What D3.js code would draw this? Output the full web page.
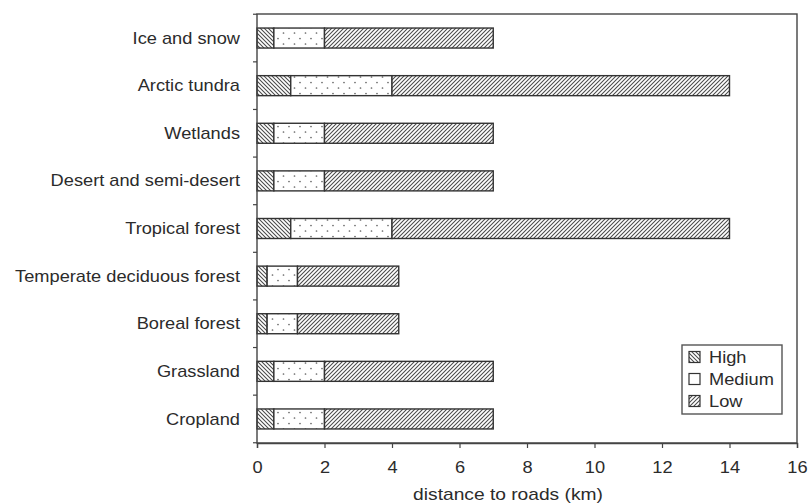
<!DOCTYPE html>
<html><head><meta charset="utf-8">
<script src="https://cdn.jsdelivr.net/npm/d3@7"></script>
<style>
html,body{margin:0;padding:0;background:#fff;}
svg{display:block;}
text{font-family:"Liberation Sans",Arial,Helvetica,sans-serif;fill:#2b2b2b;}
</style></head>
<body>
<svg id="chart" width="808" height="504"></svg>
<script>
const categories = ["Ice and snow","Arctic tundra","Wetlands","Desert and semi-desert","Tropical forest","Temperate deciduous forest","Boreal forest","Grassland","Cropland"];
const seriesNames = ["High","Medium","Low"];
const highValues   = [0.5, 1.0, 0.5, 0.5, 1.0, 0.3, 0.3, 0.5, 0.5];
const mediumValues = [1.5, 3.0, 1.5, 1.5, 3.0, 0.9, 0.9, 1.5, 1.5];
const lowValues    = [5.0, 10.0, 5.0, 5.0, 10.0, 3.0, 3.0, 5.0, 5.0];
const xTicks = [0,2,4,6,8,10,12,14,16];
const xTitle = "distance to roads (km)";

const rows = categories.map((c,i)=>({category:c, High:highValues[i], Medium:mediumValues[i], Low:lowValues[i]}));
const stacked = d3.stack().keys(seriesNames)(rows);

const svg = d3.select("#chart");
const L = 257, R = 797, T = 14, B = 443;
const SX = 1.14; // horizontal stretch of the reference's lettering
const x = d3.scaleLinear().domain([0,16]).range([L,R]);
const y = d3.scaleBand().domain(categories).range([T,B]).paddingInner(0.58).paddingOuter(0.295);

// patterns
const defs = svg.append("defs");
const hatchColor = "#4a4a4a";
const pHigh = defs.append("pattern").attr("id","pHigh").attr("patternUnits","userSpaceOnUse").attr("width",4).attr("height",4);
pHigh.append("rect").attr("width",4).attr("height",4).attr("fill","#fff");
pHigh.append("path").attr("d","M-1,3 l2,2 M0,0 l4,4 M3,-1 l2,2").attr("stroke",hatchColor).attr("stroke-width",1.05);
const pLow = defs.append("pattern").attr("id","pLow").attr("patternUnits","userSpaceOnUse").attr("width",4).attr("height",4);
pLow.append("rect").attr("width",4).attr("height",4).attr("fill","#fff");
pLow.append("path").attr("d","M-1,1 l2,-2 M0,4 l4,-4 M3,5 l2,-2").attr("stroke",hatchColor).attr("stroke-width",1.05);
const pMed = defs.append("pattern").attr("id","pMed").attr("patternUnits","userSpaceOnUse").attr("width",11).attr("height",11).attr("y",3);
pMed.append("rect").attr("width",11).attr("height",11).attr("fill","#fff");
pMed.append("circle").attr("cx",3).attr("cy",2.5).attr("r",0.85).attr("fill","#666");
pMed.append("circle").attr("cx",8.5).attr("cy",8).attr("r",0.85).attr("fill","#666");
const fills = {High:"url(#pHigh)", Medium:"url(#pMed)", Low:"url(#pLow)"};

// bars
svg.append("g").selectAll("g").data(stacked).join("g")
  .attr("fill", d=>fills[d.key])
  .selectAll("rect").data(d=>d).join("rect")
  .attr("x", d=>x(d[0]))
  .attr("y", d=>y(d.data.category))
  .attr("width", d=>x(d[1])-x(d[0]))
  .attr("height", y.bandwidth())
  .attr("stroke","#333").attr("stroke-width",1.4);

// frame
const axisColor = "#444";
svg.append("rect").attr("x",L).attr("y",T).attr("width",R-L).attr("height",B-T)
  .attr("fill","none").attr("stroke",axisColor).attr("stroke-width",1.4);

// x axis
const xAxis = svg.append("g").attr("transform",`translate(0,${B})`)
  .call(d3.axisBottom(x).tickValues(xTicks).tickSize(5).tickPadding(0).tickFormat(d3.format("d")));
xAxis.select(".domain").attr("stroke",axisColor).attr("stroke-width",1.4);
xAxis.selectAll(".tick line").attr("stroke",axisColor).attr("stroke-width",1.2);
xAxis.selectAll(".tick text").attr("y",0).attr("dy",0)
  .attr("transform",`translate(0,30) scale(${SX},1)`)
  .style("font-size","16px").attr("fill","#2b2b2b");

// y axis ticks at band boundaries
const step = y.step();
const bounds = categories.map(c=>y(c)+y.bandwidth()/2-step/2);
bounds.push(y(categories[categories.length-1])+y.bandwidth()/2+step/2);
svg.append("g").selectAll("line").data(bounds).join("line")
  .attr("x1",L-4).attr("x2",L).attr("y1",d=>d).attr("y2",d=>d)
  .attr("stroke",axisColor).attr("stroke-width",1.2);

// y labels
svg.append("g").selectAll("text").data(categories).join("text")
  .attr("transform", d=>`translate(240,${y(d)+y.bandwidth()/2}) scale(${SX},1)`)
  .attr("text-anchor","end").attr("dy","0.35em")
  .style("font-size","16px").text(d=>d);

// x title
svg.append("text").attr("transform",`translate(508,500) scale(1.2,1)`)
  .attr("text-anchor","middle").style("font-size","16px").text(xTitle);

// legend
const lg = svg.append("g");
lg.append("rect").attr("x",682).attr("y",345).attr("width",100).attr("height",69)
  .attr("fill","#fff").attr("stroke","#555").attr("stroke-width",1.4);
const ly = [357,379,401];
seriesNames.forEach((s,i)=>{
  lg.append("rect").attr("x",689).attr("y",ly[i]-5.5).attr("width",11).attr("height",11)
    .attr("fill", s==="Medium" ? "#fff" : fills[s]).attr("stroke","#333").attr("stroke-width",1.2);
  lg.append("text").attr("transform",`translate(709,${ly[i]}) scale(${SX},1)`)
    .attr("dy","0.35em").style("font-size","16px").text(s);
});
</script>
</body></html>
